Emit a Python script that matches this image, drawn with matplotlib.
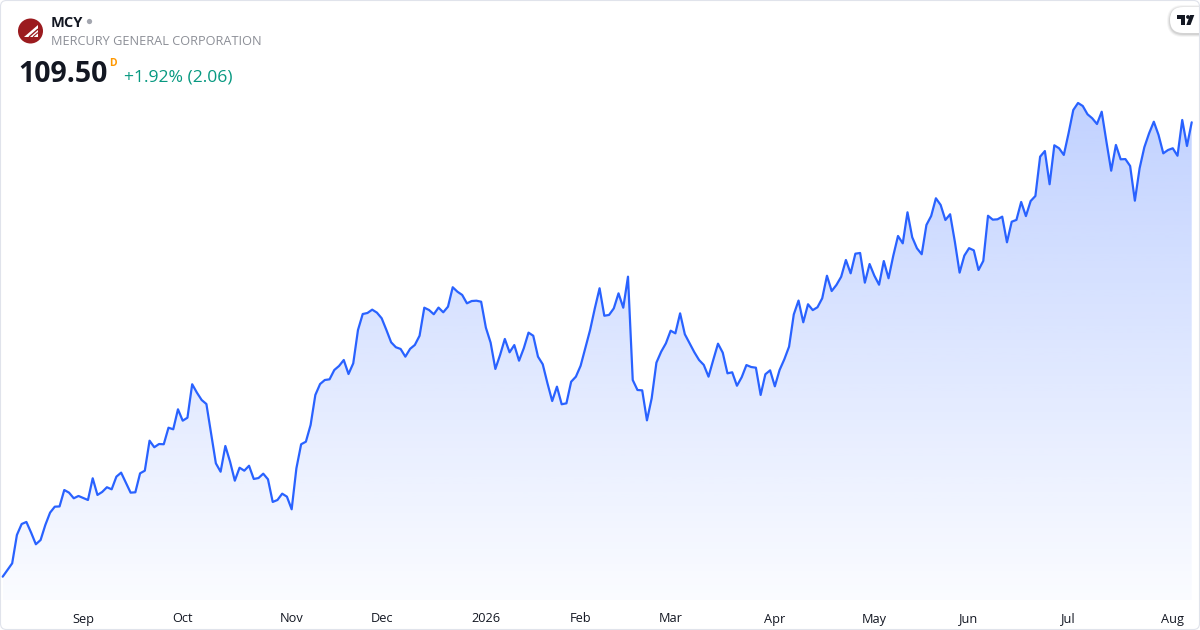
import numpy as np
import pandas as pd
import matplotlib
matplotlib.use("Agg")
import matplotlib.pyplot as plt
from matplotlib.patches import FancyBboxPatch, Circle, Polygon
from matplotlib.transforms import Affine2D, blended_transform_factory
from matplotlib.lines import Line2D

plt.rcParams['font.family'] = ['Open Sans', 'DejaVu Sans']

# ---------------- data ----------------
TICKER = "MCY"
COMPANY = "MERCURY GENERAL CORPORATION"
LAST_PRICE = "109.50"
CHANGE_TEXT = "+1.92% (2.06)"
START = "2025-08-07"
END = "2026-08-07"
HOLIDAYS = ["2025-09-01", "2025-11-27", "2025-12-25", "2026-01-01", "2026-01-19",
            "2026-02-16", "2026-04-03", "2026-05-25", "2026-06-19", "2026-07-03"]

prices = [
    69.97, 70.55, 71.13, 73.60, 74.55, 74.73, 73.80, 72.79, 73.16, 74.47,
    75.54, 76.06, 76.08, 77.51, 77.28, 76.79, 76.99, 76.81, 76.64, 78.53,
    77.08, 77.34, 77.75, 77.57, 78.67, 79.02, 78.15, 77.28, 77.31, 78.96,
    79.19, 81.80, 81.23, 81.51, 81.49, 82.93, 82.79, 84.53, 83.54, 83.80,
    86.71, 85.98, 85.34, 84.99, 82.44, 79.83, 79.10, 81.34, 79.97, 78.32,
    79.45, 79.19, 79.62, 78.47, 78.55, 78.93, 78.44, 76.47, 76.64, 77.19,
    76.93, 75.83, 79.40, 81.49, 81.71, 83.17, 85.78, 86.73, 87.08, 87.14,
    87.95, 88.30, 88.82, 87.60, 88.53, 91.43, 92.82, 92.91, 93.20, 92.94,
    92.45, 91.43, 90.36, 89.93, 89.78, 89.11, 89.79, 90.13, 90.93, 93.37,
    93.17, 92.80, 93.38, 92.97, 93.46, 95.15, 94.76, 94.48, 93.75, 93.95,
    93.98, 93.89, 91.63, 90.33, 88.04, 89.26, 90.65, 89.49, 90.12, 88.76,
    89.84, 91.20, 90.93, 89.11, 88.45, 86.79, 85.25, 86.50, 84.97, 85.05,
    86.93, 87.37, 88.32, 89.89, 91.43, 93.32, 95.06, 92.67, 92.74, 93.31,
    94.62, 93.37, 96.07, 87.08, 86.21, 86.18, 83.57, 85.49, 88.59, 89.54,
    90.27, 91.37, 91.14, 92.88, 91.06, 90.28, 89.50, 88.82, 88.39, 87.37,
    88.83, 90.24, 89.46, 87.66, 87.75, 86.58, 87.32, 88.38, 88.21, 88.15,
    85.78, 87.58, 87.92, 86.53, 87.95, 88.88, 89.98, 92.79, 93.99, 92.10,
    93.67, 93.16, 93.41, 94.19, 96.15, 94.82, 95.35, 96.06, 97.52, 96.36,
    98.07, 98.13, 95.55, 97.17, 96.16, 95.37, 97.43, 95.93, 97.89, 99.61,
    98.97, 101.67, 99.50, 98.54, 98.02, 100.57, 101.35, 102.89, 102.31, 101.00,
    101.50, 99.11, 96.42, 97.90, 98.55, 98.36, 96.65, 97.44, 101.37, 101.03,
    101.06, 101.29, 99.06, 100.85, 101.01, 102.57, 101.34, 102.65, 103.09, 106.51,
    107.00, 104.11, 107.50, 107.24, 106.66, 108.54, 110.57, 111.18, 110.92, 110.20,
    109.85, 109.35, 110.42, 107.81, 105.29, 107.53, 106.28, 106.30, 105.70, 102.68,
    105.50, 107.33, 108.54, 109.55, 108.40, 106.80, 107.09, 107.24, 106.59, 109.70,
    107.44, 109.50,
]

dates = pd.bdate_range(START, END, freq="C", holidays=HOLIDAYS)
n = min(len(dates), len(prices))
dates = dates[:n]
prices = np.array(prices[:n])
x = np.arange(n)

# ---------------- figure ----------------
W, H = 1200, 630
fig = plt.figure(figsize=(W / 100, H / 100), dpi=100)
fig.patch.set_facecolor("white")
px = Affine2D().scale(1 / W, -1 / H).translate(0, 1) + fig.transFigure

AX_TOP, AX_BOT = 90, 600
ax = fig.add_axes([0, 1 - AX_BOT / H, 1, (AX_BOT - AX_TOP) / H])
ax.set_facecolor("none")
XLIM = (-0.57, 252.75)
YLIM = (67.94, 112.31)

LINE_COLOR = "#2962FF"
# gradient fill under the line
poly = ax.fill_between(x, prices, YLIM[0], facecolor="none", edgecolor="none")
ng = 256
grad = np.zeros((ng, 1, 4))
grad[:, 0, 0] = 41 / 255
grad[:, 0, 1] = 98 / 255
grad[:, 0, 2] = 255 / 255
grad[:, 0, 3] = np.linspace(0.02, 0.29, ng)
img = ax.imshow(grad, extent=[x[0], x[-1], YLIM[0], prices.max()], origin="lower",
                aspect="auto", interpolation="bilinear", zorder=1)
img.set_clip_path(poly.get_paths()[0], transform=ax.transData)

ax.plot(x, prices, color=LINE_COLOR, lw=1.6, zorder=3, solid_joinstyle="round",
        solid_capstyle="round")

ax.set_xlim(*XLIM)
ax.set_ylim(*YLIM)
ax.set_xticks([])
ax.set_yticks([])
for s in ax.spines.values():
    s.set_visible(False)

# month labels
lab_tr = blended_transform_factory(ax.transData, px)
months = dates.to_period("M")
for i in range(1, n):
    if months[i] != months[i - 1]:
        d = dates[i]
        lab = str(d.year) if d.month == 1 else d.strftime("%b")
        ax.text(i, 622.5, lab, transform=lab_tr, ha="center", va="baseline",
                fontsize=9.2, color="#131722", clip_on=False)

# ---------------- header ----------------
# logo
fig.add_artist(Circle((30.5, 31), 12.5, transform=px, facecolor="#9b1b1f", edgecolor="none"))
fig.add_artist(Polygon([(23.5, 36.5), (37.5, 36.5), (37.5, 24.5)], closed=True,
                       transform=px, facecolor="white", edgecolor="none"))
fig.add_artist(Line2D([29.5, 37.5], [36.5, 29.5], transform=px, color="#9b1b1f", lw=1.0))
fig.add_artist(Line2D([33.5, 37.5], [36.5, 33.0], transform=px, color="#9b1b1f", lw=0.8))

fig.text(51, 26.7, TICKER, transform=px, fontsize=10.5, fontweight="bold",
         color="#131722", va="baseline", ha="left")
fig.add_artist(Line2D([89], [20.5], transform=px, marker="o", ms=3.8,
                      color="#a3a6af", mec="none", ls="none"))
fig.text(51, 45, COMPANY, transform=px, fontsize=9.2, color="#8c8f97",
         va="baseline", ha="left")
fig.text(18, 81.5, LAST_PRICE, transform=px, fontsize=20.5, fontweight="bold",
         color="#131722", va="baseline", ha="left")
fig.text(109.5, 65.5, "D", transform=px, fontsize=7.5, fontweight="bold",
         color="#ff9800", va="baseline", ha="left")
fig.text(124, 81, CHANGE_TEXT, transform=px, fontsize=12.6, color="#089981",
         va="baseline", ha="left")

# TradingView badge
for k, a in [(3, 0.04), (2, 0.06), (1, 0.08)]:
    fig.add_artist(FancyBboxPatch((1170 - k, 7 - k + 1), 50 + 2 * k, 26 + 2 * k,
                                  boxstyle="round,pad=0,rounding_size=%g" % (13 + k),
                                  transform=px, facecolor=(0, 0, 0, a), edgecolor="none"))
fig.add_artist(FancyBboxPatch((1170, 7), 50, 26, boxstyle="round,pad=0,rounding_size=13",
                              transform=px, facecolor="white", edgecolor="none"))
fig.add_artist(Polygon([(1177.3, 15), (1185.3, 15), (1185.3, 25), (1181.3, 25),
                        (1181.3, 19), (1177.3, 19)], closed=True, transform=px,
                       facecolor="#131722", edgecolor="none"))
fig.add_artist(Circle((1188.0, 17.0), 1.9, transform=px, facecolor="#131722", edgecolor="none"))
fig.add_artist(Polygon([(1186.3, 25), (1190.5, 25), (1194.3, 15), (1190.1, 15)], closed=True,
                       transform=px, facecolor="#131722", edgecolor="none"))

# outer rounded border
fig.add_artist(FancyBboxPatch((0.5, 0.5), W - 1, H - 1, boxstyle="round,pad=0,rounding_size=6",
                              transform=px, facecolor="none", edgecolor="#e0e3eb", lw=0.8))

fig.savefig("out.png", dpi=100)
